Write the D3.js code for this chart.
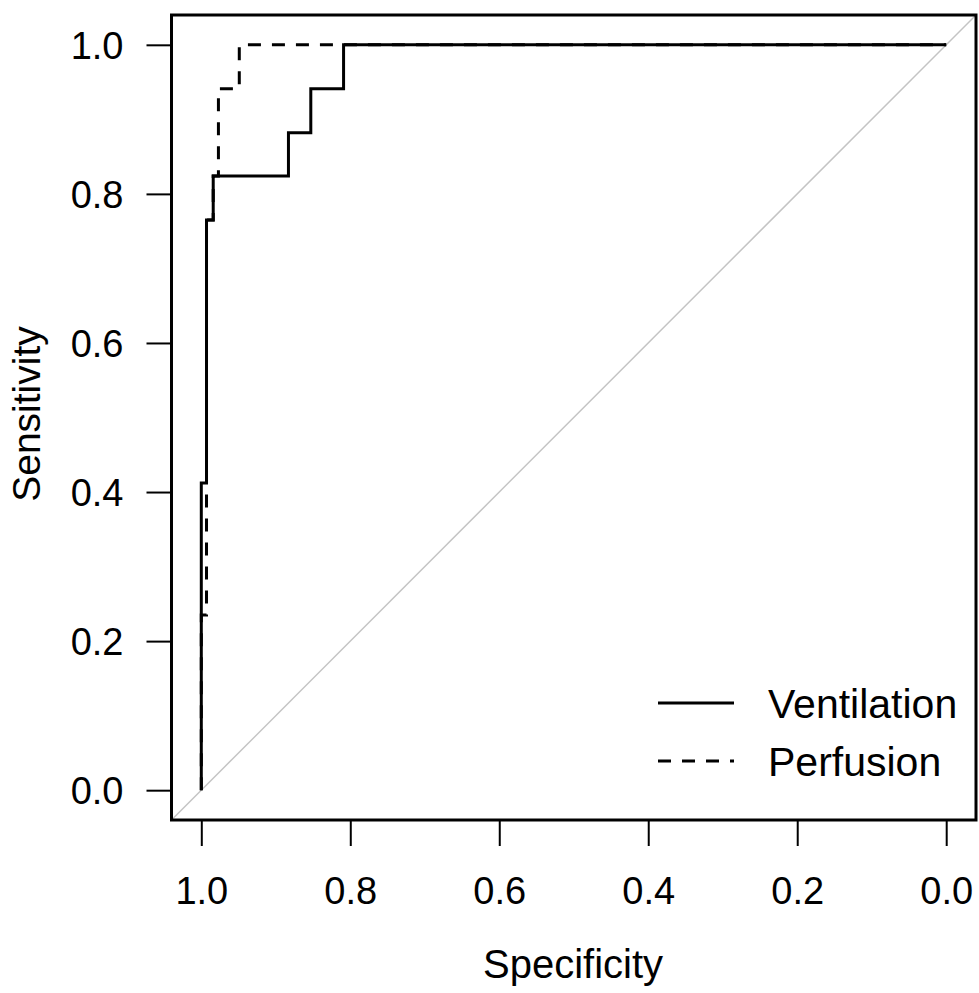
<!DOCTYPE html>
<html>
<head>
<meta charset="utf-8">
<script src="https://cdn.jsdelivr.net/npm/d3@7"></script>
<style>
  body { margin: 0; background: #fff; }
  text { font-family: "Liberation Sans", Arial, sans-serif; fill: #000; }
</style>
</head>
<body>
<div id="canvas"></div>
<script>
// ROC curves, specificity on x (reversed), sensitivity on y
const ventSpec = [1, 1, 0.993, 0.993, 0.984, 0.984, 0.883, 0.883, 0.853, 0.853, 0.809, 0.809, 0];
const ventSens = [0, 0.412, 0.412, 0.765, 0.765, 0.824, 0.824, 0.882, 0.882, 0.941, 0.941, 1, 1];

const perfSpec = [1, 1, 0.993, 0.993, 0.984, 0.984, 0.977, 0.977, 0.949, 0.949, 0];
const perfSens = [0, 0.235, 0.235, 0.765, 0.765, 0.824, 0.824, 0.941, 0.941, 1, 1];

const tickValues = [0, 0.2, 0.4, 0.6, 0.8, 1.0];
const legendLabels = ['Ventilation', 'Perfusion'];

const width = 979;
const height = 993;
const box = { left: 171.5, right: 976, top: 15, bottom: 820 };

const svg = d3.select('#canvas').append('svg')
    .attr('width', width)
    .attr('height', height);

const xScale = d3.scaleLinear()
    .domain([1.04, -0.04])
    .range([box.left, box.right]);

const yScale = d3.scaleLinear()
    .domain([-0.04, 1.04])
    .range([box.bottom, box.top]);

// chance line, corner to corner
const diag = xScale.domain();
svg.append('line')
    .attr('x1', xScale(diag[0])).attr('y1', yScale(1 - diag[0]))
    .attr('x2', xScale(diag[1])).attr('y2', yScale(1 - diag[1]))
    .attr('stroke', '#c4c4c4')
    .attr('stroke-width', 1.5);

const line = d3.line()
    .x(d => xScale(d[0]))
    .y(d => yScale(d[1]));

const series = [
    { name: legendLabels[0], pts: d3.zip(ventSpec, ventSens), dash: null },
    { name: legendLabels[1], pts: d3.zip(perfSpec, perfSens), dash: '13,11' }
];

svg.append('g')
    .attr('id', 'data')
    .selectAll('path')
    .data(series)
    .join('path')
    .attr('d', d => line(d.pts))
    .attr('fill', 'none')
    .attr('stroke', '#000')
    .attr('stroke-width', 3)
    .attr('stroke-dasharray', d => d.dash);

// axes
const xAxis = svg.append('g')
    .attr('transform', `translate(0,${box.bottom})`)
    .call(d3.axisBottom(xScale).tickValues(tickValues).tickSize(26).tickPadding(31).tickFormat(d3.format('.1f')));

const yAxis = svg.append('g')
    .attr('transform', `translate(${box.left},0)`)
    .call(d3.axisLeft(yScale).tickValues(tickValues).tickSize(25).tickPadding(23).tickFormat(d3.format('.1f')));

[xAxis, yAxis].forEach(a => {
    a.select('.domain').remove();
    a.selectAll('line').attr('stroke', '#000').attr('stroke-width', 2);
    a.selectAll('text')
        .style('font-family', '"Liberation Sans", Arial, sans-serif')
        .style('font-size', '38px')
        .attr('fill', '#000');
});
yAxis.selectAll('text').attr('dy', '0.36em');

// frame
svg.append('rect')
    .attr('x', box.left).attr('y', box.top)
    .attr('width', box.right - box.left)
    .attr('height', box.bottom - box.top)
    .attr('fill', 'none')
    .attr('stroke', '#000')
    .attr('stroke-width', 3);

// axis titles
svg.append('text')
    .attr('x', 573).attr('y', 978)
    .attr('text-anchor', 'middle')
    .style('font-size', '40px')
    .text('Specificity');

svg.append('text')
    .attr('transform', 'translate(40,414) rotate(-90)')
    .attr('text-anchor', 'middle')
    .style('font-size', '39px')
    .text('Sensitivity');

// legend
const legend = svg.append('g').attr('id', 'legend');
const item = legend.selectAll('g')
    .data(series)
    .join('g')
    .attr('transform', (d, i) => `translate(658,${703 + i * 58})`);

item.append('line')
    .attr('x1', 0).attr('x2', 76)
    .attr('stroke', '#000')
    .attr('stroke-width', 3)
    .attr('stroke-dasharray', d => d.dash);

item.append('text')
    .attr('x', 110)
    .attr('dy', '0.36em')
    .style('font-size', '41px')
    .text(d => d.name);
</script>
</body>
</html>
